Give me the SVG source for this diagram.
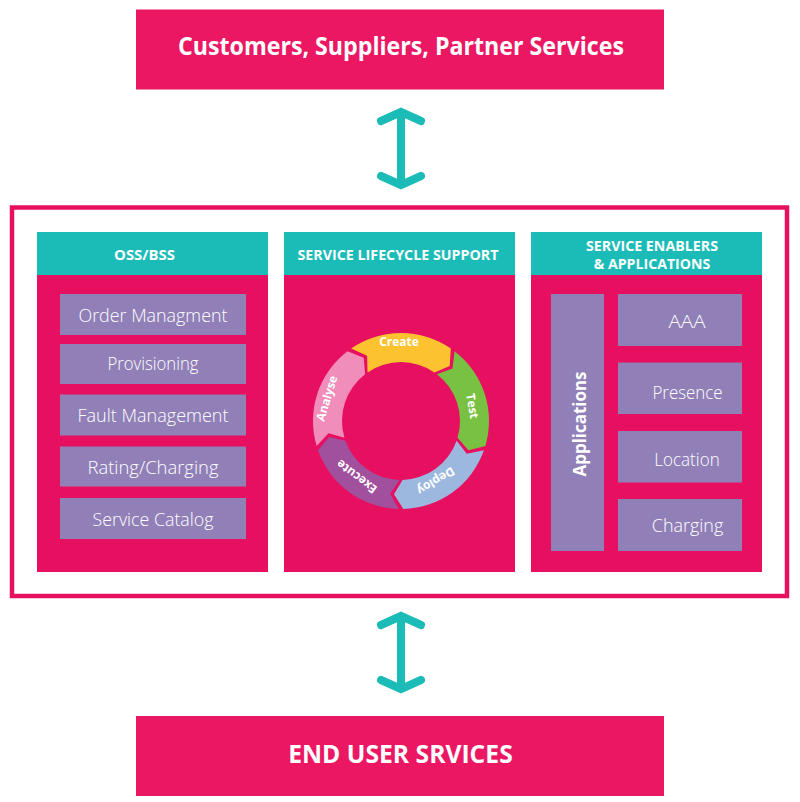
<svg xmlns="http://www.w3.org/2000/svg" width="800" height="802" viewBox="0 0 800 802">
<style>
.box{fill:#EC1763}
.pnl{fill:#E60F60}
.hdr{fill:#1BBCB8}
.itm{fill:#9180B8}
.t{font-family:"Open Sans","Noto Sans","DejaVu Sans",sans-serif;fill:#FFFFFF;text-anchor:middle}
.big{font-size:24.5px;font-weight:bold}
.h{font-size:14.5px;font-weight:bold}
.i{font-size:18px;font-weight:300}
.c{font-size:12px;font-weight:bold}
.arr{fill:none;stroke:#1BBCB8;stroke-width:8;stroke-linecap:round;stroke-linejoin:miter}
</style>
<rect width="800" height="802" fill="#FFFFFF"/>

<g id="top-box">
<rect class="box" x="136" y="9.5" width="528" height="80"/>
<text class="t big" x="401" y="55" textLength="446" lengthAdjust="spacingAndGlyphs">Customers, Suppliers, Partner Services</text>
</g>

<g id="frame">
<rect x="12" y="207.5" width="775" height="388.5" fill="none" stroke="#E6105F" stroke-width="4.5"/>
</g>

<g id="oss-bss">
<rect class="pnl" x="37" y="232" width="231" height="340"/>
<rect class="hdr" x="37" y="232" width="231" height="43"/>
<text class="t h" x="144.5" y="259.5" textLength="61" lengthAdjust="spacingAndGlyphs">OSS/BSS</text>
<g id="order-managment"><rect class="itm" x="60" y="294" width="186" height="41"/><text class="t i" x="153" y="321.5" textLength="149" lengthAdjust="spacingAndGlyphs">Order Managment</text></g>
<g id="provisioning"><rect class="itm" x="60" y="344" width="186" height="40"/><text class="t i" x="153" y="370" textLength="91" lengthAdjust="spacingAndGlyphs">Provisioning</text></g>
<g id="fault-management"><rect class="itm" x="60" y="394.5" width="186" height="41"/><text class="t i" x="153" y="421.5" textLength="151" lengthAdjust="spacingAndGlyphs">Fault Management</text></g>
<g id="rating-charging"><rect class="itm" x="60" y="446.5" width="186" height="40"/><text class="t i" x="153" y="474" textLength="131" lengthAdjust="spacingAndGlyphs">Rating/Charging</text></g>
<g id="service-catalog"><rect class="itm" x="60" y="498" width="186" height="41"/><text class="t i" x="153" y="525.5" textLength="121" lengthAdjust="spacingAndGlyphs">Service Catalog</text></g>
</g>

<g id="service-lifecycle-support">
<rect class="pnl" x="284" y="232" width="231" height="340"/>
<rect class="hdr" x="284" y="232" width="231" height="43"/>
<text class="t h" x="398" y="260" textLength="201" lengthAdjust="spacingAndGlyphs">SERVICE LIFECYCLE SUPPORT</text>
<g id="cycle">
<path id="seg-create" fill="#FDC22F" d="M 351.16 348.48 A 88 88 0 0 1 450.84 348.48 L 449.70 365.95 L 434.42 372.38 A 59 59 0 0 0 367.58 372.38 L 367.07 355.81 Z"/>
<path id="seg-test" fill="#79C143" d="M 454.57 351.18 A 88 88 0 0 1 485.37 445.99 L 468.41 450.30 L 457.57 437.76 A 59 59 0 0 0 436.92 374.19 L 452.52 368.57 Z"/>
<path id="seg-deploy" fill="#9DB8DE" d="M 483.95 450.37 A 88 88 0 0 1 403.30 508.97 L 393.96 494.16 L 402.54 479.98 A 59 59 0 0 0 456.61 440.69 L 466.78 453.80 Z"/>
<path id="seg-execute" fill="#A1509E" d="M 398.70 508.97 A 88 88 0 0 1 318.05 450.37 L 329.24 436.91 L 345.39 440.69 A 59 59 0 0 0 399.46 479.98 L 390.13 493.69 Z"/>
<path id="seg-analyse" fill="#F18DBA" d="M 316.63 445.99 A 88 88 0 0 1 347.43 351.18 L 363.70 357.67 L 365.08 374.19 A 59 59 0 0 0 344.43 437.76 L 328.51 433.13 Z"/>
<text class="t c" x="399" y="342" dy="0.36em">Create</text>
<text class="t c" x="472.5" y="406" dy="0.36em" transform="rotate(80 472.5 406)">Test</text>
<text class="t c" x="436" y="481" dy="0.36em" transform="rotate(149 436 481)">Deploy</text>
<text class="t c" x="356.7" y="476.7" dy="0.36em" transform="rotate(217 356.7 476.7)">Execute</text>
<text class="t c" x="326.7" y="398.3" dy="0.36em" transform="rotate(287 326.7 398.3)">Analyse</text>
</g>
</g>

<g id="service-enablers">
<rect class="pnl" x="531" y="232" width="231" height="340"/>
<rect class="hdr" x="531" y="232" width="231" height="43"/>
<text class="t h" x="652" y="250.5" textLength="132" lengthAdjust="spacingAndGlyphs">SERVICE ENABLERS</text>
<text class="t h" x="652" y="268.5" textLength="116.5" lengthAdjust="spacingAndGlyphs">&amp; APPLICATIONS</text>
<g id="applications"><rect class="itm" x="551" y="294" width="53" height="257"/><text class="t" x="586" y="424" font-size="17" font-weight="bold" textLength="105" lengthAdjust="spacingAndGlyphs" transform="rotate(-90 586 424)">Applications</text></g>
<g id="aaa"><rect class="itm" x="618" y="294" width="124" height="52"/><text class="t i" x="687" y="328" textLength="37" lengthAdjust="spacingAndGlyphs">AAA</text></g>
<g id="presence"><rect class="itm" x="618" y="362.5" width="124" height="51.5"/><text class="t i" x="687.5" y="398.5" textLength="70" lengthAdjust="spacingAndGlyphs">Presence</text></g>
<g id="location"><rect class="itm" x="618" y="431" width="124" height="51.5"/><text class="t i" x="687" y="465.5" textLength="65.5" lengthAdjust="spacingAndGlyphs">Location</text></g>
<g id="charging"><rect class="itm" x="618" y="499" width="124" height="52"/><text class="t i" x="687.5" y="531.5" textLength="71.5" lengthAdjust="spacingAndGlyphs">Charging</text></g>
</g>

<g id="bottom-box">
<rect class="box" x="136" y="716" width="528" height="80"/>
<text class="t big" x="400.5" y="762.5" font-size="25" textLength="224.5" lengthAdjust="spacingAndGlyphs">END USER SRVICES</text>
</g>

<g id="connectors">
<path class="arr" d="M 401 112 L 401 185 M 381 121 L 401 112 L 421 121 M 381 176 L 401 185 L 421 176"/>
<path class="arr" d="M 401 616 L 401 689 M 381 625 L 401 616 L 421 625 M 381 680 L 401 689 L 421 680"/>
</g>
</svg>
